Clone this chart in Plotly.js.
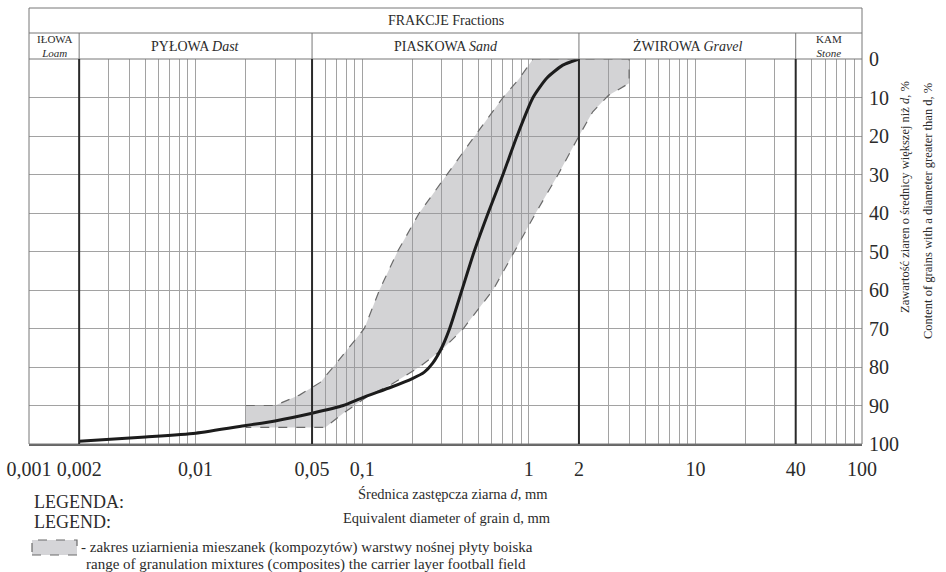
<!DOCTYPE html>
<html>
<head>
<meta charset="utf-8">
<script src="https://cdn.plot.ly/plotly-3.0.1.min.js"></script>
<style>html,body{margin:0;padding:0;background:#fff;}#chart{width:946px;height:572px;}</style>
</head>
<body>
<div id="chart"></div>
<script>
// ---- data ----
const curveX = [0.002, 0.005, 0.01, 0.02, 0.03, 0.05, 0.077, 0.1, 0.15, 0.2, 0.235, 0.265, 0.3, 0.335, 0.397, 0.47, 0.57, 0.70, 0.85, 1.06, 1.28, 1.6, 2.0];
const curveY = [99.3, 98.2, 97.2, 95.2, 94.0, 92.0, 90.0, 88.0, 85.2, 83.0, 81.4, 79.0, 75.0, 70.0, 60.0, 50.0, 40.0, 30.0, 20.0, 10.0, 5.0, 1.6, 0.0];

const bandUpperX = [0.02, 0.03, 0.042, 0.056, 0.067, 0.103, 0.127, 0.163, 0.22, 0.325, 0.474, 0.70, 0.88, 1.06];
const bandUpperY = [90.0, 90.0, 87.3, 84.0, 80.0, 70.0, 60.0, 50.0, 40.0, 30.0, 20.0, 10.0, 5.0, 0.0];
const bandLowerX = [4.0, 4.0, 3.4, 3.0, 2.42, 2.0, 1.5, 1.1, 0.82, 0.61, 0.405, 0.30, 0.22, 0.15, 0.107, 0.077, 0.06, 0.02];
const bandLowerY = [0.0, 6.3, 8.0, 9.5, 13.7, 20.0, 30.0, 40.0, 50.0, 60.0, 70.0, 75.6, 80.0, 84.5, 87.7, 92.0, 95.7, 95.7];

const tickLabelVals = [0.001, 0.002, 0.01, 0.05, 0.1, 1, 2, 10, 40, 100];
const tickLabelText = ['0,001', '0,002', '0,01', '0,05', '0,1', '1', '2', '10', '40', '100'];
const yTickVals = [0, 10, 20, 30, 40, 50, 60, 70, 80, 90, 100];

const fractionBounds = [0.002, 0.05, 2, 40];
const fractionNamesPL = ['IŁOWA', 'PYŁOWA', 'PIASKOWA', 'ŻWIROWA', 'KAM'];
const fractionNamesEN = ['Loam', 'Dast', 'Sand', 'Gravel', 'Stone'];

// ---- helpers ----
const X_MIN = -3, X_MAX = 2;
const px = v => (Math.log10(v) - X_MIN) / (X_MAX - X_MIN); // data -> paper x
const PLOT_TOP = 59, PLOT_BOT = 444, PLOT_H = PLOT_BOT - PLOT_TOP;
const PLOT_L = 29, PLOT_R = 862, PLOT_W = PLOT_R - PLOT_L;
const py = p => (PLOT_BOT - p) / PLOT_H;   // pixel -> paper y
const pxp = p => (p - PLOT_L) / PLOT_W;    // pixel -> paper x

const gridVals = [];
for (let e = -3; e < 2; e++) for (let m = 1; m < 10; m++) gridVals.push(+(m * Math.pow(10, e)).toPrecision(3));
gridVals.push(100);
const gridText = gridVals.map(v => {
  const i = tickLabelVals.findIndex(t => Math.abs(t - v) / v < 1e-6);
  return i >= 0 ? tickLabelText[i] : '';
});

const serif = '"Liberation Serif", "Times New Roman", Times, serif';
const txt = '#2b2b2b';

const bandX = bandUpperX.concat(bandLowerX);
const bandY = bandUpperY.concat(bandLowerY);

const traces = [
  {
    x: bandX, y: bandY, type: 'scatter', mode: 'lines', fill: 'toself',
    fillcolor: 'rgba(150,150,156,0.42)',
    line: {color: '#6a6a6a', width: 1.2, dash: 'dash'},
    hoverinfo: 'skip', showlegend: false
  },
  {
    x: curveX, y: curveY, type: 'scatter', mode: 'lines',
    line: {color: '#1c1c1c', width: 3, shape: 'spline', smoothing: 0.6},
    showlegend: false
  }
];

const HDR_TOP = py(8), HDR_MID = py(33);
const shapes = [
  {type: 'rect', xref: 'paper', yref: 'paper', x0: 0, x1: 1, y0: 0, y1: HDR_TOP, line: {color: '#777', width: 1}},
  {type: 'line', xref: 'paper', yref: 'paper', x0: 0, x1: 1, y0: HDR_MID, y1: HDR_MID, line: {color: '#777', width: 1}},
  {type: 'line', xref: 'paper', yref: 'paper', x0: 0, x1: 1, y0: 1, y1: 1, line: {color: '#777', width: 1}},
  // legend swatch
  {type: 'rect', xref: 'paper', yref: 'paper', x0: pxp(32), x1: pxp(77), y0: py(555), y1: py(540),
   fillcolor: '#d5d5d8', line: {color: '#6a6a6a', width: 1.2, dash: 'dash'}}
];
fractionBounds.forEach(b => {
  shapes.push({type: 'line', xref: 'paper', yref: 'paper', x0: px(b), x1: px(b), y0: 0, y1: 1, line: {color: '#2a2a2a', width: 2}});
  shapes.push({type: 'line', xref: 'paper', yref: 'paper', x0: px(b), x1: px(b), y0: 1, y1: HDR_MID, line: {color: '#777', width: 1}});
});

const annotations = [];
const ann = (o) => annotations.push(Object.assign({xref: 'paper', yref: 'paper', showarrow: false, borderpad: 0, font: {family: serif, size: 14, color: txt}}, o));

ann({text: 'FRAKCJE Fractions', x: 0.5, y: py(21), xanchor: 'center', yanchor: 'middle'});
const edges = [Math.pow(10, X_MIN)].concat(fractionBounds, [Math.pow(10, X_MAX)]);
for (let i = 0; i < fractionNamesPL.length; i++) {
  const cx = (px(edges[i]) + px(edges[i + 1])) / 2;
  if (i === 0 || i === fractionNamesPL.length - 1) {
    ann({text: fractionNamesPL[i] + '<br><i>' + fractionNamesEN[i] + '</i>', x: cx, y: py(46), xanchor: 'center', yanchor: 'middle',
         font: {family: serif, size: 11, color: txt}});
  } else {
    ann({text: fractionNamesPL[i] + ' <i>' + fractionNamesEN[i] + '</i>', x: cx, y: py(46), xanchor: 'center', yanchor: 'middle'});
  }
}

ann({text: 'Średnica zastępcza ziarna <i>d</i>, mm', x: pxp(453), y: py(494), xanchor: 'center', yanchor: 'middle', font: {family: serif, size: 14.5, color: txt}});
ann({text: 'Equivalent diameter of grain d, mm', x: pxp(447), y: py(518), xanchor: 'center', yanchor: 'middle', font: {family: serif, size: 14.5, color: txt}});

ann({text: 'Zawartość ziaren o średnicy większej niż <i>d</i>, %', x: pxp(905), y: py(80), xanchor: 'center', yanchor: 'top', textangle: -90, font: {family: serif, size: 12.5, color: txt}});
ann({text: 'Content of grains with a diameter greater than d, %', x: pxp(928), y: py(82), xanchor: 'center', yanchor: 'top', textangle: -90, font: {family: serif, size: 12.5, color: txt}});

ann({text: 'LEGENDA:', x: pxp(33), y: py(502), xanchor: 'left', yanchor: 'middle', font: {family: serif, size: 18, color: txt}});
ann({text: 'LEGEND:', x: pxp(33), y: py(522), xanchor: 'left', yanchor: 'middle', font: {family: serif, size: 18, color: txt}});
ann({text: '- zakres uziarnienia mieszanek (kompozytów) warstwy nośnej płyty boiska', x: pxp(80), y: py(547), xanchor: 'left', yanchor: 'middle', font: {family: serif, size: 15, color: txt}});
ann({text: 'range of granulation mixtures (composites) the carrier layer football field', x: pxp(85), y: py(564), xanchor: 'left', yanchor: 'middle', font: {family: serif, size: 15, color: txt}});

const layout = {
  width: 946, height: 572,
  margin: {l: PLOT_L, r: 946 - PLOT_R, t: PLOT_TOP, b: 572 - PLOT_BOT, pad: 0},
  paper_bgcolor: '#fff', plot_bgcolor: '#fff',
  showlegend: false,
  xaxis: {
    type: 'log', range: [X_MIN, X_MAX], tickmode: 'array', tickvals: gridVals, ticktext: gridText,
    showgrid: true, gridcolor: '#a2a2a2', gridwidth: 1, zeroline: false,
    showline: true, linecolor: '#666', linewidth: 2, ticks: '', ticklabelstandoff: 6,
    tickfont: {family: serif, size: 20, color: txt}, fixedrange: true
  },
  yaxis: {
    range: [100, 0], side: 'right', tickmode: 'array', tickvals: yTickVals,
    showgrid: true, gridcolor: '#a2a2a2', gridwidth: 1, zeroline: false,
    showline: false, ticks: '', ticklabelstandoff: 6,
    tickfont: {family: serif, size: 20, color: txt}, fixedrange: true
  },
  shapes: shapes,
  annotations: annotations
};

Plotly.newPlot('chart', traces, layout, {displayModeBar: false, staticPlot: true});
</script>
</body>
</html>
